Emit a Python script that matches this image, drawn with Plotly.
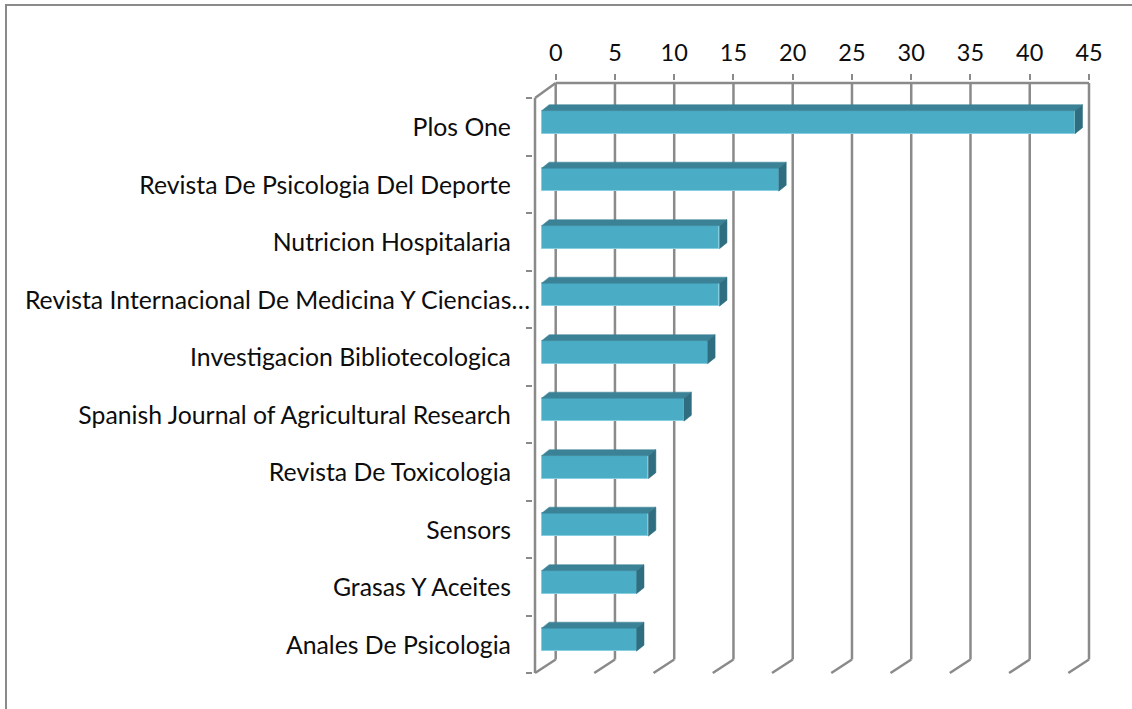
import plotly.graph_objects as go

journals = ["Plos One", "Revista De Psicologia Del Deporte", "Nutricion Hospitalaria",
            "Revista Internacional De Medicina Y Ciencias…", "Investigacion Bibliotecologica",
            "Spanish Journal of Agricultural Research", "Revista De Toxicologia", "Sensors",
            "Grasas Y Aceites", "Anales De Psicologia"]
counts = [45, 20, 15, 15, 14, 12, 9, 9, 8, 8]
x_ticks = [0, 5, 10, 15, 20, 25, 30, 35, 40, 45]

W, H = 1132, 709
BACK_L, BACK_R = 555.7, 1089.0       # pixel of x=0 and x=45 on the back wall
FRONT_TOP, FRONT_BOT = 98.0, 673.0   # pixel extent of the front axis
BACK_TOP, BACK_BOT = 83.0, 659.5
FRONT_L = 535.0
PL, PR, PT, PB = 533.0, 1092.0, 81.0, 677.0   # plot box, slightly larger so wall lines are not clipped

px_x = (BACK_R - BACK_L) / 45
px_y = (FRONT_BOT - FRONT_TOP) / len(journals)
wall_dx = (BACK_L - FRONT_L) / px_x
wall_dy_bot = (FRONT_BOT - BACK_BOT) / px_y
wall_dy_top = (FRONT_TOP - BACK_TOP) / px_y
y_front_top, y_front_bot = -0.5, len(journals) - 0.5
y_back_top = y_front_top - wall_dy_top
y_back_bot = y_front_bot - wall_dy_bot

bar_base = (541.7 - BACK_L) / px_x
bar_dx = 7.5 / px_x
bar_dy = 6.0 / px_y
bar_h = 23.0 / px_y
bar_shift = 4.6 / px_y
label_shift = 1.0 / px_y

GRID = "#8a8a8a"
FRONT, TOP, SIDE = "#4bacc6", "#3b8296", "#2f6e80"
FONT = "Lato"
INK = "#0d0d0d"
ys = [i - bar_shift for i in range(len(journals))]
# the truncated label runs further right than the others, which carry trailing spaces
tick_text = [j if j.endswith("…") else j + "\u00a0" * 3 for j in journals]

fig = go.Figure()
fig.add_trace(go.Bar(y=ys, x=counts, base=bar_base, orientation="h", width=bar_h,
                     marker=dict(color=FRONT, line=dict(color="#86cfe0", width=1)),
                     hoverinfo="skip", showlegend=False))
for y, v in zip(ys, counts):
    t = y - bar_h / 2
    b = y + bar_h / 2
    end = bar_base + v
    fig.add_trace(go.Scatter(x=[bar_base, end, end + bar_dx, bar_base + bar_dx, bar_base],
                             y=[t, t, t - bar_dy, t - bar_dy, t], mode="lines", fill="toself",
                             fillcolor=TOP, line=dict(color=TOP, width=0.5),
                             hoverinfo="skip", showlegend=False))
    fig.add_trace(go.Scatter(x=[end, end + bar_dx, end + bar_dx, end, end],
                             y=[t, t - bar_dy, b - bar_dy, b, t], mode="lines", fill="toself",
                             fillcolor=SIDE, line=dict(color=SIDE, width=0.5),
                             hoverinfo="skip", showlegend=False))

shapes = []
def seg(x0, y0, x1, y1):
    shapes.append(dict(type="line", xref="x", yref="y", x0=x0, y0=y0, x1=x1, y1=y1,
                       layer="below", line=dict(color=GRID, width=2.5)))

for v in x_ticks:
    seg(v, y_back_top, v, y_back_bot)
    seg(v, y_back_bot, v - wall_dx, y_front_bot)
seg(0, y_back_top, 45, y_back_top)
seg(-wall_dx, y_front_top, -wall_dx, y_front_bot)
seg(-wall_dx, y_front_top, 0, y_back_top)

# outer chart frame
for x0, y0, x1, y1 in [(5, 4.9, W, 4.9), (6, 4, 6, H)]:
    shapes.append(dict(type="line", xref="paper", yref="paper",
                       x0=(x0 - PL) / (PR - PL), x1=(x1 - PL) / (PR - PL),
                       y0=(PB - y0) / (PB - PT), y1=(PB - y1) / (PB - PT),
                       layer="below", line=dict(color="#8a8a8a", width=2)))

fig.update_layout(
    width=W, height=H, autosize=False, paper_bgcolor="white", plot_bgcolor="white",
    margin=dict(l=PL, r=W - PR, t=PT, b=H - PB, pad=0, autoexpand=False),
    bargap=0, showlegend=False, shapes=shapes,
    font=dict(family=FONT, size=24, color=INK),
    xaxis=dict(side="top", range=[(PL - BACK_L) / px_x, (PR - BACK_L) / px_x], tickvals=x_ticks,
               automargin=False,
               ticks="outside", ticklen=6, tickwidth=2, tickcolor=GRID, ticklabelstandoff=4,
               showgrid=False, zeroline=False, showline=False,
               tickfont=dict(family=FONT, size=23.5, color=INK)),
    yaxis=dict(range=[(PB - FRONT_TOP) / px_y - 0.5, (PT - FRONT_TOP) / px_y - 0.5], tickmode="array",
               automargin=False,
               tickvals=[i + label_shift for i in range(len(journals))], ticktext=tick_text,
               ticks="", ticklabelstandoff=2,
               showgrid=False, zeroline=False, showline=False,
               tickfont=dict(family=FONT, size=24.8, color=INK),
               minor=dict(tickmode="array", tickvals=[i - 0.5 for i in range(len(journals) + 1)],
                          ticks="outside", ticklen=6, tickwidth=2, tickcolor=GRID, showgrid=False)),
)
fig.write_html("out.html", config={"displayModeBar": False},
               post_script="document.body.style.margin='0';document.documentElement.style.overflow='hidden';")
